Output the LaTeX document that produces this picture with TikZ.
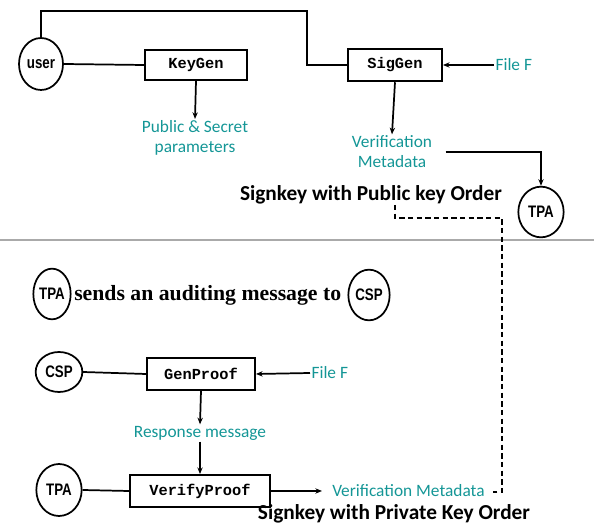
\documentclass[tikz,border=0pt]{standalone}
\usepackage{fontspec}
\setmainfont{Liberation Serif}
\newfontfamily\notefont{Carlito}
\newfontfamily\codefont{Liberation Mono}
\newfontfamily\rolefont{Liberation Sans}
\usetikzlibrary{arrows.meta,shapes.geometric}
\definecolor{tealtext}{RGB}{20,150,150}
\definecolor{rulegray}{RGB}{170,170,170}

\tikzset{
  wire/.style={line width=1.3pt, draw=black},
  arr/.style={wire, -{Stealth[length=5pt,width=4pt]}},
  procbox/.style={draw, line width=1.4pt, inner sep=0pt,
    font=\codefont\bfseries\fontsize{11.5}{13}\selectfont},
  role/.style={draw, ellipse, line width=1.3pt, inner sep=0pt,
    font=\rolefont\bfseries\fontsize{12.5}{14}\selectfont},
  note/.style={text=tealtext, align=center, inner sep=1pt,
    font=\notefont\fontsize{13}{15}\selectfont},
  order/.style={inner sep=0pt, font=\notefont\bfseries\fontsize{16}{18}\selectfont},
}
\newcommand{\narrow}[1]{\scalebox{0.8}[1]{#1}}

\begin{document}
\begin{tikzpicture}[x=0.75pt, y=-0.75pt]
\useasboundingbox (0,0) rectangle (594,527);

% ---------- setup phase ----------
\node[role, minimum width=33pt, minimum height=39pt] (user) at (41,64) {\narrow{user}};
\node[procbox, minimum width=76.5pt, minimum height=22.5pt] (kg) at (196,65) {KeyGen};
\node[procbox, minimum width=70.5pt, minimum height=24.5pt] (sg) at (395,65) {SigGen};
\node[note, anchor=west] (ff1) at (494,65) {File F};
\node[note] (psp) at (195,138) {Public \& Secret\\parameters};
\node[note] (vm1) at (392,152) {Verification\\Metadata};
\node[role, minimum width=34pt, minimum height=38pt] (tpa1) at (541,212) {\narrow{TPA}};
\node[order] (pubord) at (371,195) {Signkey with Public key Order};

\coordinate (topbend) at (307,11);
\draw[wire] (user.north) |- (topbend) |- (sg.west);
\draw[wire] (user.east) -- (kg.west);
\draw[arr] (ff1.west) -- (sg.east);
\draw[arr] (kg.south) -- (psp.north);
\draw[arr] (sg.south) -- (vm1.north);
\draw[arr] ([xshift=9pt]vm1.east) -| (tpa1.north);

% separator between the two phases
\draw[rulegray, line width=1.3pt] (0,240) -- (594,240);

% ---------- auditing phase ----------
\node[role, minimum width=28pt, minimum height=38pt] (tpa2) at (52,294) {\narrow{TPA}};
\node[anchor=west, inner sep=0pt, font=\bfseries\fontsize{16.3}{18}\selectfont] (msg) at (74,295) {sends an auditing message to};
\node[role, minimum width=31pt, minimum height=38pt] (csp2) at (369,295) {\narrow{CSP}};

\node[role, minimum width=35pt, minimum height=30pt] (csp3) at (59,372) {\narrow{CSP}};
\node[procbox, minimum width=81pt, minimum height=24pt] (gp) at (201,374) {GenProof};
\node[note, anchor=west] (ff2) at (310,373) {File F};
\node[note] (resp) at (200,433) {Response message};
\node[role, minimum width=34pt, minimum height=39pt] (tpa3) at (59,490) {\narrow{TPA}};
\node[procbox, minimum width=105pt, minimum height=24pt] (vp) at (200,491) {VerifyProof};
\node[note, anchor=west, inner sep=0pt] (vm2) at (332,491) {Verification Metadata};
\node[order] (privord) at (394,514) {Signkey with Private Key Order};

\draw[wire] (csp3.east) -- (gp.west);
\draw[arr] (ff2.west) -- (gp.east);
\draw[arr] (gp.south) -- (resp.north);
\draw[arr] (resp.south) -- (vp.north);
\draw[wire] (tpa3.east) -- (vp.west);
\draw[arr] (vp.east) -- ([xshift=-7.5pt]vm2.west);

% dashed link between the two signing orders
\coordinate (dtop) at (395,205);
\coordinate (dbot) at (502,492);
\draw[wire, dash pattern=on 4pt off 2.5pt] (dtop) -- ++(0,13) -| (dbot) -- ++(-9,0);
\end{tikzpicture}
\end{document}
